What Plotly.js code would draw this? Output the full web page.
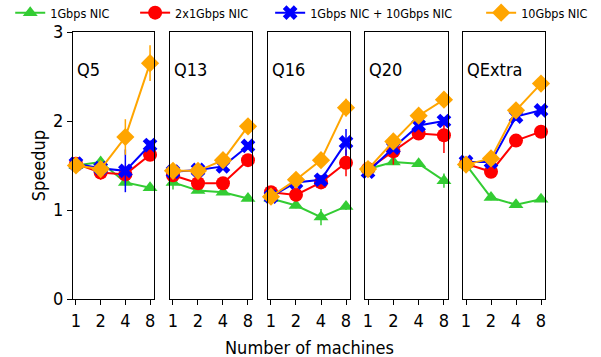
<!DOCTYPE html>
<html><head><meta charset="utf-8">
<script src="https://cdn.plot.ly/plotly-3.0.1.min.js"></script>
<style>body{margin:0;padding:0;background:#fff}</style>
</head><body>
<div id="chart" style="width:601px;height:357px"></div>
<script>
const machines = ['1','2','4','8'];
const queries = ['Q5','Q13','Q16','Q20','QExtra'];
const seriesNames = ['1Gbps NIC','2x1Gbps NIC','1Gbps NIC + 10Gbps NIC','10Gbps NIC'];

// speedup values per query: [1,2,4,8 machines]
const nic1g = {
  Q5:[1.50,1.54,1.31,1.25], Q13:[1.31,1.22,1.20,1.13], Q16:[1.13,1.05,0.92,1.04],
  Q20:[1.46,1.54,1.52,1.33], QExtra:[1.51,1.14,1.06,1.12]
};
const nic2x1g = {
  Q5:[1.52,1.42,1.40,1.62], Q13:[1.39,1.30,1.30,1.56], Q16:[1.20,1.17,1.31,1.53],
  Q20:[1.46,1.66,1.86,1.84], QExtra:[1.52,1.43,1.78,1.88]
};
const nic1g10g = {
  Q5:[1.52,1.47,1.44,1.73], Q13:[1.43,1.45,1.49,1.72], Q16:[1.15,1.31,1.34,1.76],
  Q20:[1.43,1.70,1.95,2.00], QExtra:[1.54,1.54,2.05,2.12]
};
const nic10g = {
  Q5:[1.50,1.46,1.82,2.65], Q13:[1.44,1.44,1.56,1.94], Q16:[1.15,1.34,1.56,2.15],
  Q20:[1.46,1.77,2.06,2.24], QExtra:[1.51,1.58,2.12,2.42]
};
// error bar half-widths
const err1g = {
  Q5:[0.03,0.03,0.04,0.03], Q13:[0.08,0.03,0.03,0.03], Q16:[0.03,0.03,0.09,0.04],
  Q20:[0.03,0.03,0.03,0.08], QExtra:[0.06,0.03,0.03,0.03]
};
const err2x1g = {
  Q5:[0.04,0.08,0.10,0.05], Q13:[0.03,0.03,0.03,0.05], Q16:[0.03,0.03,0.04,0.15],
  Q20:[0.03,0.15,0.04,0.20], QExtra:[0.03,0.04,0.04,0.04]
};
const err1g10g = {
  Q5:[0.03,0.04,0.24,0.05], Q13:[0.03,0.04,0.04,0.04], Q16:[0.03,0.05,0.05,0.15],
  Q20:[0.03,0.04,0.04,0.04], QExtra:[0.03,0.04,0.05,0.04]
};
const err10g = {
  Q5:[0.05,0.05,0.20,0.20], Q13:[0.04,0.04,0.04,0.05], Q16:[0.03,0.04,0.08,0.10],
  Q20:[0.05,0.04,0.04,0.05], QExtra:[0.03,0.04,0.04,0.05]
};

const seriesData = [nic1g, nic2x1g, nic1g10g, nic10g];
const seriesErr = [err1g, err2x1g, err1g10g, err10g];
const colors = ['#33cc33','#ff0000','#0000ff','#ffa500'];
const symbols = ['triangle-up','circle','x','diamond'];
const msizes = [13,14,13,14];

const domains = [[0,0.1716],[0.2055,0.3792],[0.4131,0.5869],[0.6186,0.7945],[0.8263,1]];
const legendX = [-0.133, 0.1316, 0.4177, 0.8647];
const FONT = 'DejaVu Sans Condensed, DejaVu Sans';

const traces = [];
queries.forEach((q, qi) => {
  const ax = qi === 0 ? '' : String(qi+1);
  seriesNames.forEach((name, si) => {
    traces.push({
      type:'scatter', mode:'lines+markers',
      x: machines, y: seriesData[si][q],
      xaxis:'x'+ax, yaxis:'y'+ax,
      name: name, legendgroup: name, showlegend: qi === 0,
      legend: si === 0 ? 'legend' : 'legend' + (si+1),
      line:{color:colors[si], width:2},
      marker:{color:colors[si], symbol:symbols[si], size:msizes[si], line:{width:0}},
      error_y:{type:'data', array: seriesErr[si][q], visible:true, color:colors[si], thickness:1.5, width:0},
      cliponaxis:false
    });
  });
});

const layout = {
  width:601, height:357,
  margin:{l:73, r:56, t:32, b:58, autoexpand:false},
  paper_bgcolor:'#fff', plot_bgcolor:'#fff',
  font:{family:FONT, color:'#000', size:17},
  showlegend:true,
  annotations:[],
  shapes:[]
};
legendX.forEach((lx, i) => {
  layout[i === 0 ? 'legend' : 'legend' + (i+1)] = {
    orientation:'h', x:lx, y:1.071, xanchor:'left', yanchor:'middle',
    font:{family:FONT, size:12.5}, bgcolor:'rgba(0,0,0,0)'
  };
});
queries.forEach((q, qi) => {
  const ax = qi === 0 ? '' : String(qi+1);
  layout['xaxis'+ax] = {
    domain: domains[qi], anchor:'y'+ax, type:'category',
    range:[-0.12,3.16], showgrid:false, zeroline:false,
    showline:true, mirror:true, linecolor:'#000', linewidth:1,
    ticks:'outside', ticklen:5, tickcolor:'#000',
    tickfont:{family:FONT, size:18}
  };
  layout['yaxis'+ax] = {
    domain:[0,1], anchor:'x'+ax, range:[0,3],
    tickvals:[0,1,2,3], showticklabels: qi === 0,
    showgrid:false, zeroline:false,
    showline:true, mirror:true, linecolor:'#000', linewidth:1,
    ticks: qi === 0 ? 'outside' : '', ticklen:5, tickcolor:'#000',
    tickfont:{family:FONT, size:18}
  };
  layout.annotations.push({
    text:q, xref:'x'+ax+' domain', yref:'y'+ax+' domain',
    x:0.03, y:0.858, xanchor:'left', yanchor:'middle', showarrow:false,
    font:{family:FONT, size:18, color:'#000'}
  });
});
layout.yaxis.title = {text:'Speedup', font:{family:FONT, size:18}, standoff:2};
layout.annotations.push({
  text:'Number of machines', xref:'paper', yref:'paper', x:0.5, y:-0.18,
  xanchor:'center', yanchor:'middle', showarrow:false, font:{family:FONT, size:18}
});

Plotly.newPlot('chart', traces, layout, {displayModeBar:false, staticPlot:true});
</script>
</body></html>
